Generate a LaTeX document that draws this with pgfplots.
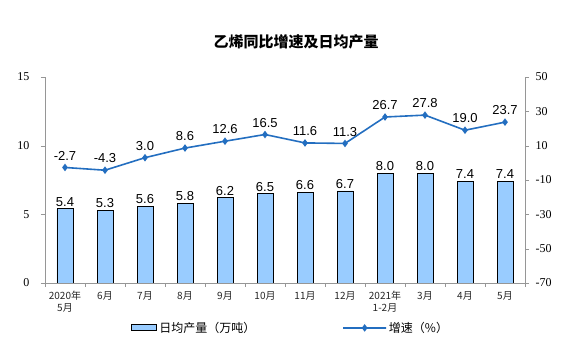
\documentclass[border=0pt]{standalone}
\usepackage{pgfplots}
\pgfplotsset{compat=1.18}
\usepackage{fontspec}
\setmainfont{Liberation Sans}
\newfontfamily\cjk{Noto Sans CJK SC}
\newfontfamily\tnr{Liberation Serif}
\definecolor{barfill}{RGB}{153,204,255}
\definecolor{linec}{RGB}{35,110,192}
\definecolor{axc}{RGB}{150,150,150}
\pgfplotsset{
  barleg/.style={legend image code/.code={\draw[##1] (0pt,-2.5pt) rectangle (25pt,3.5pt);}},
  lineleg/.style={legend image code/.code={\draw[##1, mark repeat=2, mark phase=2] plot coordinates {(0pt,0pt) (13.5pt,0pt) (27pt,0pt)};}},
}
\begin{document}
\begin{tikzpicture}
\useasboundingbox (0,0) rectangle (579pt,351pt);
\node[font=\cjk\bfseries\fontsize{15}{17}\selectfont] at (296pt,309pt) {乙烯同比增速及日均产量};
\begin{axis}[
  at={(45pt,68pt)}, anchor=south west, scale only axis,
  width=480pt, height=206pt,
  xmin=-0.5, xmax=11.5, ymin=0, ymax=15,
  axis x line*=bottom, axis y line*=left,
  axis line style={draw=axc,-},
  tick style={draw=axc},
  tick align=outside,
  ytick={0,5,10,15},
  major tick length=4pt, minor tick length=4pt,
  xtick={0,...,11},
  major x tick style={draw=none},
  minor xtick={-0.5,0.5,...,11.5},
  xticklabels={{2020年\\5月},6月,7月,8月,9月,10月,11月,12月,{2021年\\1-2月},3月,4月,5月},
  xticklabel style={align=center, font=\cjk\fontsize{10}{12}\selectfont, text=black!85, yshift=-1pt},
  /pgf/number format/assume math mode=true,
  yticklabel style={font=\tnr\fontsize{12}{14}\selectfont, xshift=-8pt},
  ybar, bar width=0.4,
  nodes near coords={\pgfmathprintnumber[fixed,zerofill,precision=1]{\pgfplotspointmeta}},
  nodes near coords style={font=\fontsize{13}{15}\selectfont, inner sep=2pt, text=black},
  legend style={draw=none, at={(0.512,-0.218)}, anchor=center, legend columns=2,
    font=\cjk\fontsize{12}{14}\selectfont,
    /tikz/every even column/.append style={column sep=85pt}},
]
\addplot[fill=barfill, draw=black, line width=0.9pt, barleg]
  coordinates {(0,5.4) (1,5.3) (2,5.6) (3,5.8) (4,6.2) (5,6.5) (6,6.6) (7,6.7) (8,8.0) (9,8.0) (10,7.4) (11,7.4)};
\addlegendentry{日均产量（万吨）}
\addlegendimage{linec, line width=1.6pt, mark=diamond*, mark size=2.5pt, lineleg}
\addlegendentry{增速（\%）}
\end{axis}
\begin{axis}[
  at={(45pt,68pt)}, anchor=south west, scale only axis,
  width=480pt, height=206pt,
  xmin=-0.5, xmax=11.5, ymin=-70, ymax=50,
  axis x line=none, axis y line*=right,
  axis line style={draw=axc,-},
  tick style={draw=axc},
  tick align=outside, major tick length=4pt,
  ytick={-70,-50,-30,-10,10,30,50},
  /pgf/number format/assume math mode=true,
  yticklabel style={font=\tnr\fontsize{12}{14}\selectfont, xshift=3pt},
  nodes near coords={\pgfmathprintnumber[fixed,zerofill,precision=1]{\pgfplotspointmeta}},
  nodes near coords style={font=\fontsize{13}{15}\selectfont, anchor=south, yshift=3pt, text=black},
]
\addplot[linec, line width=1.6pt, mark=diamond*, mark size=2.5pt]
  coordinates {(0,-2.7) (1,-4.3) (2,3.0) (3,8.6) (4,12.6) (5,16.5) (6,11.6) (7,11.3) (8,26.7) (9,27.8) (10,19.0) (11,23.7)};
\end{axis}
\end{tikzpicture}
\end{document}
